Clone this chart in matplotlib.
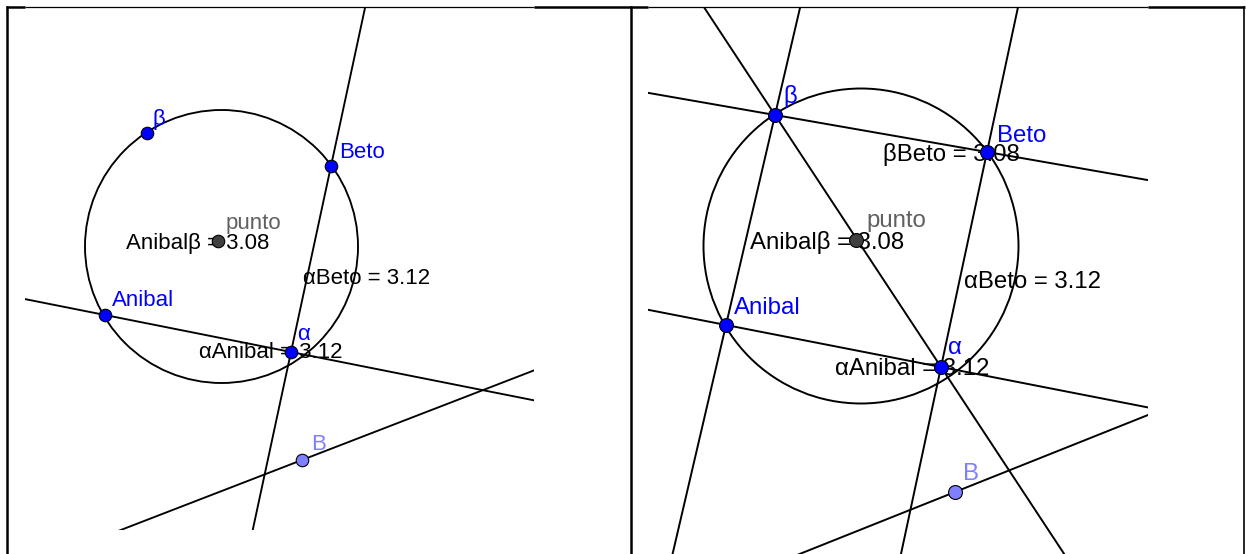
import matplotlib.pyplot as plt
from matplotlib.patches import Circle, Rectangle

plt.rcParams['font.family'] = ['Liberation Sans', 'DejaVu Sans']

W, H = 1246, 554

# left panel (pixel coordinates of the screenshot)
left_clip = (25, 8, 534, 530)
left_circle = ((221.5, 246.5), 136.5)
left_pts = {
    'beta': (147, 133), 'Beto': (331, 166), 'Anibal': (105, 315),
    'alpha': (291, 352), 'B': (302, 460), 'punto': (218, 241),
}
left_lines = [('Beto', 'alpha'), ('Anibal', 'alpha')]
left_B_dir = (233, -90)
left_labels = [
    ('β', 152, 116, 'blue'), ('Beto', 339, 150, 'blue'), ('punto', 226, 221, 'gray'),
    ('Anibalβ = 3.08', 126, 240, 'black'), ('αBeto = 3.12', 303, 275, 'black'),
    ('Anibal', 112, 298, 'blue'), ('α', 297, 331, 'blue'),
    ('αAnibal = 3.12', 199, 350, 'black'), ('B', 311, 441, 'light'),
]

# right panel
right_clip = (648, 8, 1148, 554)
right_circle = ((861, 246), 157.5)
right_pts = {
    'beta': (775, 115), 'Beto': (987, 152), 'Anibal': (726, 325),
    'alpha': (941, 367), 'B': (955, 492), 'punto': (856, 240),
}
right_lines = [('beta', 'Beto'), ('Anibal', 'alpha'), ('beta', 'Anibal'),
               ('Beto', 'alpha'), ('beta', 'alpha')]
right_B_dir = (193, -77)
right_labels = [
    ('β', 783, 94, 'blue'), ('Beto', 997, 133, 'blue'), ('βBeto = 3.08', 883, 152, 'black'),
    ('punto', 866, 218, 'gray'), ('Anibalβ = 3.08', 750, 239, 'black'),
    ('αBeto = 3.12', 964, 279, 'black'), ('Anibal', 734, 305, 'blue'),
    ('α', 948, 345, 'blue'), ('αAnibal = 3.12', 835, 366, 'black'), ('B', 963, 471, 'light'),
]

colors = {'blue': '#0000FF', 'gray': '#606060', 'black': '#000000', 'light': '#7F7FFF'}

fig = plt.figure(figsize=(W / 100, H / 100), dpi=100)
ax = fig.add_axes([0, 0, 1, 1])
ax.set_xlim(0, W)
ax.set_ylim(H, 0)
ax.axis('off')


def draw_panel(clip, circ, pts, lines, bdir, labels, fs, ms, lw):
    x0, y0, x1, y1 = clip
    clip_rect = Rectangle((x0, y0), x1 - x0, y1 - y0, transform=ax.transData)
    ax.add_patch(Circle(circ[0], circ[1], fill=False, ec='black', lw=lw, zorder=2))

    def long_line(p, d):
        k = 2000
        ln, = ax.plot([p[0] - k * d[0], p[0] + k * d[0]], [p[1] - k * d[1], p[1] + k * d[1]],
                      color='black', lw=lw, zorder=2, solid_capstyle='butt')
        ln.set_clip_path(clip_rect)

    for a, b in lines:
        pa, pb = pts[a], pts[b]
        long_line(pa, (pb[0] - pa[0], pb[1] - pa[1]))
    long_line(pts['B'], bdir)

    for name, p in pts.items():
        fc = '#0000FF'
        if name == 'B':
            fc = '#7F7FFF'
        elif name == 'punto':
            fc = '#404040'
        ax.plot(p[0], p[1], 'o', ms=ms, mfc=fc, mec='black', mew=0.8, zorder=4)

    # small downward nudge: matplotlib's 'center' sits a bit high vs. the screenshot
    for txt, x, y, c in labels:
        ax.text(x, y + 3, txt, color=colors[c], fontsize=fs, ha='left', va='center', zorder=3)


draw_panel(left_clip, left_circle, left_pts, left_lines, left_B_dir, left_labels, 16, 9, 1.35)
draw_panel(right_clip, right_circle, right_pts, right_lines, right_B_dir, right_labels, 17.3, 10, 1.4)

# table borders
ax.plot([7, 7], [7, H], color='black', lw=1.8)
ax.plot([631, 631], [7, H], color='black', lw=1.8)
ax.plot([1244, 1244], [7, H], color='black', lw=1.2)
for xa, xb in [(6, 25), (534, 648), (1148, 1245)]:
    ax.plot([xa, xb], [7, 7], color='black', lw=1.8, solid_capstyle='butt')
for xa, xb in [(25, 534), (648, 1148)]:
    ax.plot([xa, xb], [7, 7], color='black', lw=0.9, solid_capstyle='butt')

fig.savefig('out.png', dpi=100)
